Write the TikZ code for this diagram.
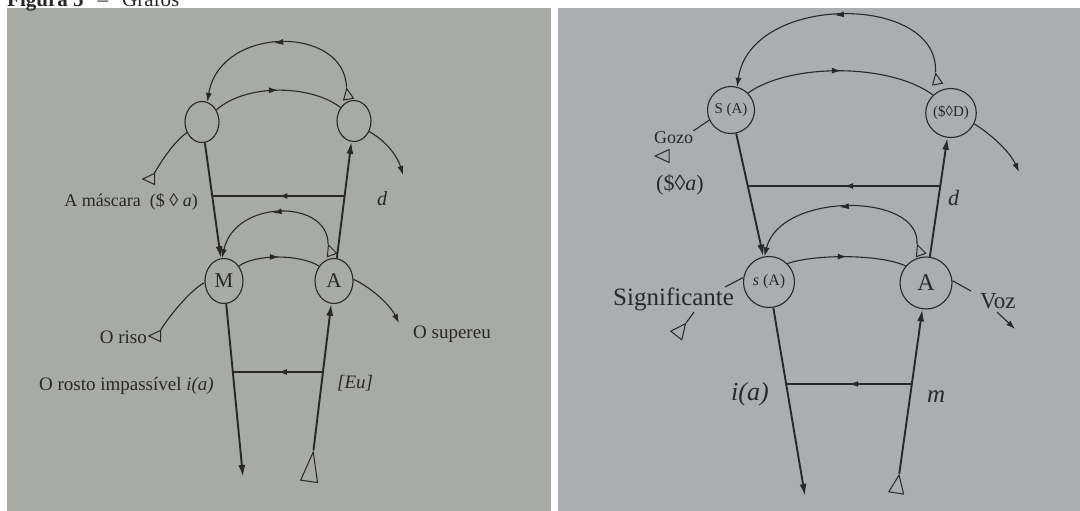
\documentclass[tikz,border=0pt]{standalone}
\usepackage{fontspec}
\setmainfont{Liberation Serif}
\usetikzlibrary{arrows.meta,shapes.geometric,decorations.markings}
\definecolor{ink}{RGB}{40,40,40}
\definecolor{paperL}{RGB}{168,170,166}
\definecolor{paperR}{RGB}{170,174,177}
\newcommand{\myfs}[1]{\fontsize{#1}{#1}\selectfont}
\tikzset{
  arc/.style={draw=ink, line width=1.1pt},
  vec/.style={draw=ink, line width=1.9pt},
  nd/.style={ellipse, draw=ink, line width=1.1pt, inner sep=0pt, text=ink},
  tri/.style={isosceles triangle, isosceles triangle apex angle=50, draw=ink, line width=1pt, inner sep=0pt, minimum size=#1},
  tri/.default=10pt,
  endarr/.style={-{Latex[length=9pt,width=6pt]}},
  endarrB/.style={-{Latex[length=12pt,width=7pt]}},
  midarr/.style={postaction={decorate}, decoration={markings, mark=at position 0.5 with {\arrow{Latex[length=9pt,width=6pt]}}}},
  lab/.style={inner sep=0pt, text=ink},
}
\begin{document}
\begin{tikzpicture}[x=1pt,y=-1pt]
\useasboundingbox (0,0) rectangle (1080,511);
\fill[paperL] (7,8) rectangle (551,511);
\fill[paperR] (558,8) rectangle (1080,511);
\node[lab, anchor=base west] (cap) at (7,7) {\myfs{21}\textbf{Figura 5}\hspace{14pt}–\hspace{14pt}Grafos};

% ===== left graph =====
\node[nd, minimum width=34pt, minimum height=41pt] (TL) at (202,122) {};
\node[nd, minimum width=34pt, minimum height=41pt] (TR) at (354,121) {};
\node[nd, minimum width=38pt, minimum height=45pt] (M) at (224,281) {\myfs{21}M};
\node[nd, minimum width=38pt, minimum height=45pt] (A) at (334,281) {\myfs{21}A};
\node[tri, rotate=100] (tD) at (348,96) {};
\node[tri, rotate=110] (tE) at (331,252) {};
\node[tri=17pt, isosceles triangle apex angle=32, rotate=82] (tC) at (310,475) {};
\node[tri=11pt, rotate=180] (tA) at (151,179) {};
\node[tri=11pt, rotate=180] (tB) at (157,336) {};
\coordinate (trEnd) at (403,175);
\coordinate (aEnd) at (399,323);
\coordinate (mBot) at (243,477);
\coordinate (h1r) at (344.6,196);
\coordinate (h1l) at (212.2,196);
\coordinate (h2r) at (322.9,372);
\coordinate (h2l) at (232.8,372);

\draw[arc, midarr, endarr] (tD.apex) .. controls (345,25) and (220,25) .. (TL.75);
\draw[arc, midarr] (TL.40) .. controls (245,84) and (310,84) .. (TR.135);
\draw[arc] (tA) .. controls (162,160) and (174,142) .. (TL.215);
\draw[arc, endarr] (TR.-35) .. controls (388,142) and (398,158) .. (trEnd);
\draw[vec, endarrB] (TL) -- (M);
\draw[vec, endarrB] (M) -- (mBot);
\draw[vec, endarrB] (tC.apex) -- (A);
\draw[vec, endarrB] (A) -- (TR);
\draw[vec, midarr] (h1r) -- (h1l);
\draw[vec, midarr] (h2r) -- (h2l);
\draw[arc, midarr, endarr] (tE.apex) .. controls (328,199) and (235,199) .. (M.95);
\draw[arc, midarr] (M.45) .. controls (255,254) and (300,254) .. (A.135);
\draw[arc] (tB) .. controls (168,318) and (190,290) .. (M.185);
\draw[arc, endarr] (A.5) .. controls (372,288) and (390,305) .. (aEnd);

\node[lab, anchor=base east] (lMask) at (198,206) {\myfs{18}A máscara\ \ (\$ ◊ \textit{a})};
\node[lab, anchor=base west] (lD) at (377,205) {\myfs{20}\textit{d}};
\node[lab, anchor=base east] (lRiso) at (147,343) {\myfs{19}O riso};
\node[lab, anchor=base west] (lSup) at (413,338) {\myfs{19}O supereu};
\node[lab, anchor=base east] (lRosto) at (214,390) {\myfs{19}O rosto impassível\ \textit{i(a)}};
\node[lab, anchor=base west] (lEu) at (337,388) {\myfs{19}\textit{[Eu]}};

% ===== right graph =====
\node[nd, minimum width=47pt, minimum height=47pt] (SA) at (731,110) {\myfs{15}S (A)};
\node[nd, minimum width=49pt, minimum height=49pt] (DS) at (951,113) {\myfs{15}(\$◊D)};
\node[nd, minimum width=51pt, minimum height=51pt] (sA) at (769,282) {\myfs{16}\textit{s} (A)};
\node[nd, minimum width=52pt, minimum height=52pt] (A2) at (926,283) {\myfs{24}A};
\node[tri, rotate=100] (tF) at (937,81) {};
\node[tri, rotate=110] (tG) at (920,252) {};
\node[tri=15pt, isosceles triangle apex angle=45, rotate=81] (tR) at (897,488) {};
\node[tri=13pt, rotate=180] (tGozo) at (665,156) {};
\node[tri=14pt, rotate=52] (tSig) at (679,332) {};
\coordinate (dsEnd) at (1019,172);
\coordinate (saBot) at (805,496);
\coordinate (g1r) at (940.3,186);
\coordinate (g1l) at (747.8,186);
\coordinate (g2r) at (911.8,384);
\coordinate (g2l) at (786.2,384);
\coordinate (sigTop) at (725,287);
\coordinate (sigLow) at (694,312);
\coordinate (vozA) at (971,291);
\coordinate (vz1) at (997,312);
\coordinate (vz2) at (1015,329);

\draw[arc, midarr, endarr] (tF.apex) .. controls (940,-7) and (750,-7) .. (SA.75);
\draw[arc, midarr] (SA.45) .. controls (790,63) and (890,63) .. (DS.135);
\draw[arc, endarr] (DS.-25) .. controls (992,135) and (1010,152) .. (dsEnd);
\draw[vec, endarrB] (SA) -- (sA);
\draw[vec, endarrB] (sA) -- (saBot);
\draw[vec, endarrB] (tR.apex) -- (A2);
\draw[vec, endarrB] (A2) -- (DS);
\draw[vec, midarr] (g1r) -- (g1l);
\draw[vec, midarr] (g2r) -- (g2l);
\draw[arc, midarr, endarr] (tG.apex) .. controls (920,192) and (780,192) .. (sA.100);
\draw[arc, midarr] (sA.45) .. controls (815,254) and (880,254) .. (A2.140);

\node[lab, anchor=base west] (rGozo) at (654,143) {\myfs{18}Gozo};
\draw[arc] (SA.205) -- (rGozo.north east);
\node[lab, anchor=base west] (rSa) at (656,190) {\myfs{22}(\$◊\textit{a})};
\node[lab, anchor=base west] (rD) at (948,205) {\myfs{22}\textit{d}};
\node[lab, anchor=base west] (rSig) at (613,305) {\myfs{25}Significante};
\draw[arc] (sA.170) -- (sigTop);
\draw[arc] (sigLow) -- (tSig.apex);
\node[lab, anchor=base west] (rVoz) at (980,308) {\myfs{23}Voz};
\draw[arc] (A2.5) -- (vozA);
\draw[arc, endarr] (vz1) -- (vz2);
\node[lab, anchor=base west] (rIa) at (731,400) {\myfs{26}\textit{i(a)}};
\node[lab, anchor=base west] (rM) at (927,402) {\myfs{25}\textit{m}};
\end{tikzpicture}
\end{document}
